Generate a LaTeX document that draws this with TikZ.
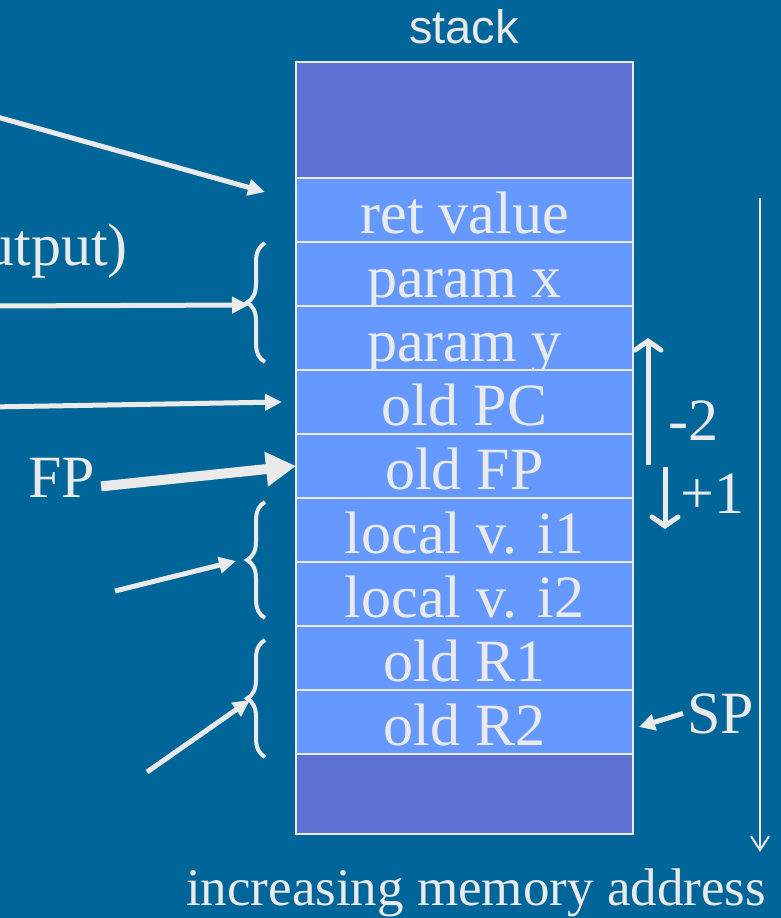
\documentclass[tikz,border=0pt]{standalone}
\usepackage{fontspec}
\setmainfont{Liberation Serif}
\newfontfamily\labelsans{Liberation Sans}
\usetikzlibrary{arrows.meta, positioning, decorations.pathreplacing}

\definecolor{slidebg}{RGB}{0,102,153}
\definecolor{framecell}{RGB}{95,112,211}
\definecolor{datacell}{RGB}{102,153,255}
\definecolor{chalk}{RGB}{234,234,234}

\begin{document}
\begin{tikzpicture}[
  x=1pt, y=-1pt,
  font=\fontsize{60}{60}\selectfont,
  cell/.style={draw=chalk, line width=2.5pt, fill=datacell, text=chalk, minimum width=337pt, minimum height=64pt, inner sep=0pt, outer sep=0pt, text height=46pt, text depth=0pt},
  emptycell/.style={cell, fill=framecell},
  lbl/.style={text=chalk, inner sep=0pt, anchor=base west},
  arr/.style={draw=chalk, line width=5pt, -{Triangle[length=17pt, width=16pt]}},
  fat/.style={draw=chalk, line width=10pt, -{Triangle[length=30pt, width=33pt]}},
  bar/.style={draw=chalk, line width=5pt, -{Straight Barb[length=9pt, width=26pt, line cap=round]}},
  grp/.style={draw=chalk, line width=4pt, decorate, decoration={brace, amplitude=18pt}}
]
\path[use as bounding box, clip] (0,0) rectangle (781,918);
\fill[slidebg] (0,0) rectangle (781,918);

% the stack, top to bottom
\node[emptycell, minimum height=116pt] (free) at (464.5,120) {};
\node[cell, below=0pt of free] (ret)   {ret value};
\node[cell, below=0pt of ret]  (parx)  {param x};
\node[cell, below=0pt of parx] (pary)  {param y};
\node[cell, below=0pt of pary] (oldpc) {old PC};
\node[cell, below=0pt of oldpc] (oldfp) {old FP};
\node[cell, below=0pt of oldfp] (loc1) {local v. i1};
\node[cell, below=0pt of loc1] (loc2)  {local v. i2};
\node[cell, below=0pt of loc2] (r1)    {old R1};
\node[cell, below=0pt of r1]   (r2)    {old R2};
\node[emptycell, below=0pt of r2, minimum height=80pt] (spare) {};

% labels
\node[text=chalk, inner sep=0pt, anchor=base, font=\labelsans\fontsize{47}{47}\selectfont] (title) at (464,43) {stack};
\node[lbl, anchor=base east] (io) at (128,265) {utput)};
\node[lbl] (fp) at (28,497) {FP};
\node[lbl] (minus) at (668,440) {-2};
\node[lbl] (plus) at (680,513) {+1};
\node[lbl] (sp) at (687,733) {SP};
\node[lbl, anchor=base, font=\fontsize{53}{53}\selectfont] (addr) at (476,905) {increasing memory address};

% braces round the groups
\draw[grp] (265,362) -- (265,243);
\draw[grp] (265,618) -- (265,502);
\draw[grp] (265,757) -- (265,640);
\coordinate (argtip) at (249,305);
\coordinate (loctip) at (236,561);
\coordinate (regtip) at (250,700);

% free ends of the pointers
\coordinate (retfrom) at (-10,115);
\coordinate (retto) at (265,192);
\coordinate (argfrom) at (-10,306);
\coordinate (pcfrom) at (-10,407);
\coordinate (pcto) at (282,402);
\coordinate (locfrom) at (115,591);
\coordinate (regfrom) at (147,772);
\coordinate (spto) at (639,727);

\draw[arr] (retfrom) -- (retto);
\draw[arr] (argfrom) -- (argtip);
\draw[arr] (pcfrom) -- (pcto);
\draw[fat] ([xshift=6pt, yshift=-9pt]fp.east) -- (oldfp.west);
\draw[arr] (locfrom) -- (loctip);
\draw[arr] (regfrom) -- (regtip);
\draw[arr, -{Triangle[length=16pt, width=16pt]}] ([xshift=-4pt]sp.west) -- (spto);

% offsets from FP
\coordinate (upfrom) at (648,465);
\coordinate (upto) at (648,338);
\coordinate (downfrom) at (665,467);
\coordinate (downto) at (665,529);
\draw[bar] (upfrom) -- (upto);
\draw[bar] (downfrom) -- (downto);

% address direction
\coordinate (addrtop) at (760,198);
\coordinate (addrend) at (760,852);
\draw[chalk, line width=2pt, -{Straight Barb[length=14pt, width=18pt]}] (addrtop) -- (addrend);
\end{tikzpicture}
\end{document}
